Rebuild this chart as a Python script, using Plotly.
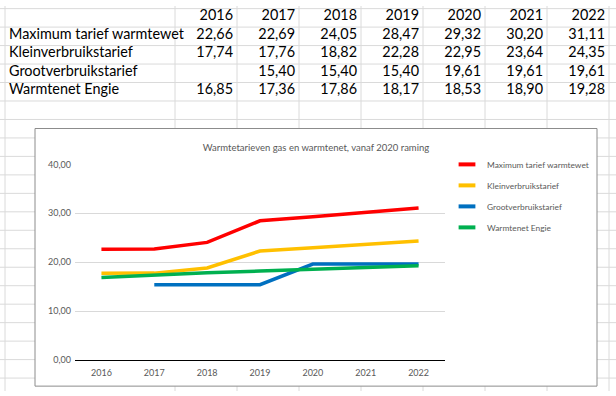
import plotly.graph_objects as go

# ---------------- data ----------------
years = ["2016", "2017", "2018", "2019", "2020", "2021", "2022"]
series_names = ["Maximum tarief warmtewet", "Kleinverbruikstarief",
                "Grootverbruikstarief", "Warmtenet Engie"]
max_tarief = [22.66, 22.69, 24.05, 28.47, 29.32, 30.20, 31.11]
klein = [17.74, 17.76, 18.82, 22.28, 22.95, 23.64, 24.35]
groot = [None, 15.40, 15.40, 15.40, 19.61, 19.61, 19.61]
engie = [16.85, 17.36, 17.86, 18.17, 18.53, 18.90, 19.28]
series_values = [max_tarief, klein, groot, engie]
chart_title = "Warmtetarieven gas en warmtenet, vanaf 2020 raming"

# ---------------- style / layout constants ----------------
W, H = 616, 396
colors = ["#FF0000", "#FFC000", "#0070C0", "#00B050"]
FONT = "Lato, Liberation Sans, sans-serif"
GRAY = "#595959"
col_edges = [5, 175, 237, 299, 361, 423, 485, 547, 609]
row_top, row_h = 2.7, 19
text_dy = -1.3
n_rows = 21
chart_box = (35, 126, 597, 391)  # x0, y0, x1, y1 in px (top-down)
plot_px = (75, 163, 445, 364)    # plot area x0, ytop, x1, ybottom


def px_x(x):
    return x / W


def px_y(y):
    return (H - y) / H


def fmt(v):
    return "" if v is None else f"{v:.2f}".replace(".", ",")


fig = go.Figure()

# ---------- chart lines ----------
for name, vals, c in zip(series_names, series_values, colors):
    fig.add_trace(go.Scatter(
        x=years, y=vals, mode="lines", name=name, showlegend=False,
        line=dict(color=c, width=3.5), connectgaps=False,
        xaxis="x", yaxis="y", hoverinfo="skip"))

# legend entries (short bar symbols like Excel)
for i, (name, c) in enumerate(zip(series_names, colors)):
    fig.add_trace(go.Scatter(
        x=[None], y=[None], mode="markers", name=name, legendgroup=str(i),
        marker=dict(symbol="line-ew", size=12, color=c,
                    line=dict(color=c, width=4)),
        xaxis="x", yaxis="y"))

# ---------- spreadsheet table text ----------
num_x, num_y, num_t = [], [], []
for j, yr in enumerate(years):
    num_x.append(col_edges[j + 2] - 4)
    num_y.append(row_top + row_h / 2 + text_dy)
    num_t.append(yr)
for r, vals in enumerate(series_values):
    for j, v in enumerate(vals):
        num_x.append(col_edges[j + 2] - 4)
        num_y.append(row_top + row_h * (r + 1) + row_h / 2 + text_dy)
        num_t.append(fmt(v))
fig.add_trace(go.Scatter(
    x=num_x, y=num_y, text=num_t, mode="text", textposition="middle left",
    textfont=dict(family=FONT, size=14.4, color="#000000"),
    showlegend=False, xaxis="x2", yaxis="y2", hoverinfo="skip"))
fig.add_trace(go.Scatter(
    x=[col_edges[0] + 4] * len(series_names),
    y=[row_top + row_h * (r + 1) + row_h / 2 + text_dy for r in range(len(series_names))],
    text=series_names, mode="text", textposition="middle right",
    textfont=dict(family=FONT, size=14.4, color="#000000"),
    showlegend=False, xaxis="x2", yaxis="y2", hoverinfo="skip"))

# ---------- spreadsheet grid (shapes, below) ----------
shapes = []
grid_col = "#DADADA"
for k in range(n_rows):
    y = row_top + row_h * k
    shapes.append(dict(type="line", xref="paper", yref="paper", layer="below",
                       x0=0, x1=1, y0=px_y(y), y1=px_y(y),
                       line=dict(color=grid_col, width=1)))
for x in col_edges:
    shapes.append(dict(type="line", xref="paper", yref="paper", layer="below",
                       x0=px_x(x), x1=px_x(x), y0=0, y1=1,
                       line=dict(color=grid_col, width=1)))
x0, y0, x1, y1 = chart_box
shapes.append(dict(type="rect", xref="paper", yref="paper", layer="below",
                   x0=px_x(x0), x1=px_x(x1), y0=px_y(y1), y1=px_y(y0),
                   fillcolor="white", line=dict(color="#8C8C8C", width=1)))

px0, pyt, px1, pyb = plot_px
fig.update_layout(
    width=W, height=H, margin=dict(l=0, r=0, t=0, b=0),
    paper_bgcolor="white", plot_bgcolor="rgba(0,0,0,0)",
    separators=",.",
    font=dict(family=FONT, color=GRAY, size=9),
    shapes=shapes,
    title=dict(text=chart_title, x=px_x((x0 + x1) / 2), xanchor="center",
               y=px_y(146), yanchor="middle", xref="paper", yref="paper",
               font=dict(family=FONT, size=9.5, color=GRAY)),
    xaxis=dict(domain=[px_x(px0), px_x(px1)], anchor="y", type="category",
               range=[-0.5, len(years) - 0.5], showgrid=False,
               showline=True, linecolor="#000000", linewidth=1,
               ticks="", ticklabelstandoff=4,
               tickfont=dict(size=9, color=GRAY), fixedrange=True),
    yaxis=dict(domain=[px_y(pyb), px_y(pyt)], anchor="x", range=[0, 40],
               dtick=10, tickformat=".2f", showgrid=True, gridcolor="#D9D9D9",
               gridwidth=1, zeroline=False, showline=False, ticks="",
               ticklabelstandoff=3,
               tickfont=dict(size=9, color=GRAY), fixedrange=True),
    xaxis2=dict(domain=[0, 1], anchor="y2", range=[0, W], visible=False,
                fixedrange=True),
    yaxis2=dict(domain=[0, 1], anchor="x2", range=[H, 0], visible=False,
                fixedrange=True),
    legend=dict(x=px_x(447), xanchor="left", y=px_y(148), yanchor="top",
                bgcolor="rgba(0,0,0,0)", font=dict(size=8.4, color=GRAY),
                tracegroupgap=2, itemclick=False, itemdoubleclick=False),
)

fig.write_html("out.html",
               config={"displayModeBar": False, "staticPlot": True},
               post_script="document.body.style.margin='0';"
                           "document.body.style.overflow='hidden';")
